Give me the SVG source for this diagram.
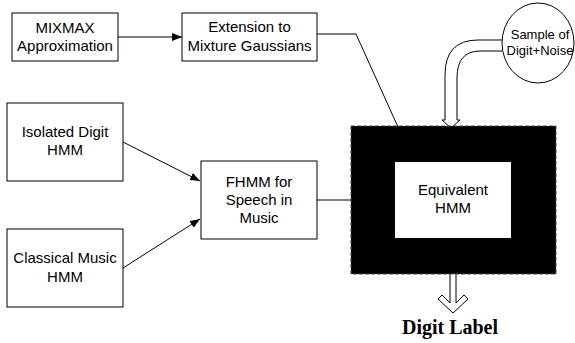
<svg xmlns="http://www.w3.org/2000/svg" width="575" height="343" viewBox="0 0 575 343">
<style>
.box{fill:#fff;stroke:#000;stroke-width:1}
.t{font-family:"Liberation Sans",Arial,sans-serif;font-size:15px;fill:#000;text-anchor:middle}
.ln{fill:none;stroke:#000;stroke-width:1}
</style>
<defs>
<marker id="ah" markerWidth="10" markerHeight="8" refX="10" refY="4" orient="auto" markerUnits="userSpaceOnUse">
<path d="M0,0 L10,4 L0,8 Z" fill="#000"/>
</marker>
</defs>
<rect width="575" height="343" fill="#fff"/>
<g id="connectors">
<line class="ln" x1="118" y1="37" x2="182" y2="37" marker-end="url(#ah)"/>
<polyline class="ln" points="317,34 356,34 398,127"/>
<line class="ln" x1="123" y1="142" x2="200" y2="181" marker-end="url(#ah)"/>
<line class="ln" x1="123" y1="268" x2="200" y2="219" marker-end="url(#ah)"/>
<line class="ln" x1="317" y1="200" x2="351" y2="200"/>
<path d="M502,40 L478,40 Q445,40 445,75 L445,120 L442,120 L451,128 L460,120 L457,120 L457,78 Q457,51 480,51 L502,51" fill="#fff" stroke="#000" stroke-width="1"/>
<path d="M450,274 L450,303 L442,295 L438,299 L453,313 L468,299 L464,295 L456,303 L456,274" fill="#fff" stroke="#000" stroke-width="1"/>
</g>
<g id="mixmax">
<rect class="box" x="12" y="13" width="106" height="48"/>
<text class="t" x="65" y="33">MIXMAX</text>
<text class="t" x="65" y="51">Approximation</text>
</g>
<g id="extension">
<rect class="box" x="182" y="13" width="135" height="48"/>
<text class="t" x="249.5" y="32">Extension to</text>
<text class="t" x="249.5" y="51">Mixture Gaussians</text>
</g>
<g id="sample">
<ellipse cx="538" cy="43" rx="36" ry="40" fill="#fff" stroke="#000" stroke-width="1"/>
<text class="t" x="540" y="39" style="font-size:13px">Sample of</text>
<text class="t" x="540" y="55" style="font-size:13px">Digit+Noise</text>
</g>
<g id="isolated">
<rect class="box" x="7" y="103" width="116" height="78"/>
<text class="t" x="65" y="137">Isolated Digit</text>
<text class="t" x="65" y="155">HMM</text>
</g>
<g id="classical">
<rect class="box" x="7" y="229" width="116" height="78"/>
<text class="t" x="65" y="263">Classical Music</text>
<text class="t" x="65" y="282">HMM</text>
</g>
<g id="fhmm">
<rect class="box" x="201" y="161" width="116" height="78"/>
<text class="t" x="259" y="187">FHMM for</text>
<text class="t" x="259" y="205">Speech in</text>
<text class="t" x="259" y="223">Music</text>
</g>
<g id="equivalent">
<rect x="351" y="126" width="205" height="148" fill="#000" stroke="#444" stroke-width="1" stroke-dasharray="4 2"/>
<rect x="395" y="162" width="116" height="76" fill="#fff"/>
<text class="t" x="453" y="195">Equivalent</text>
<text class="t" x="453" y="213">HMM</text>
</g>
<g id="digitlabel">
<text x="450" y="334" style="font-family:'Liberation Serif','Times New Roman',serif;font-weight:bold;font-size:20px;text-anchor:middle">Digit Label</text>
</g>
</svg>
